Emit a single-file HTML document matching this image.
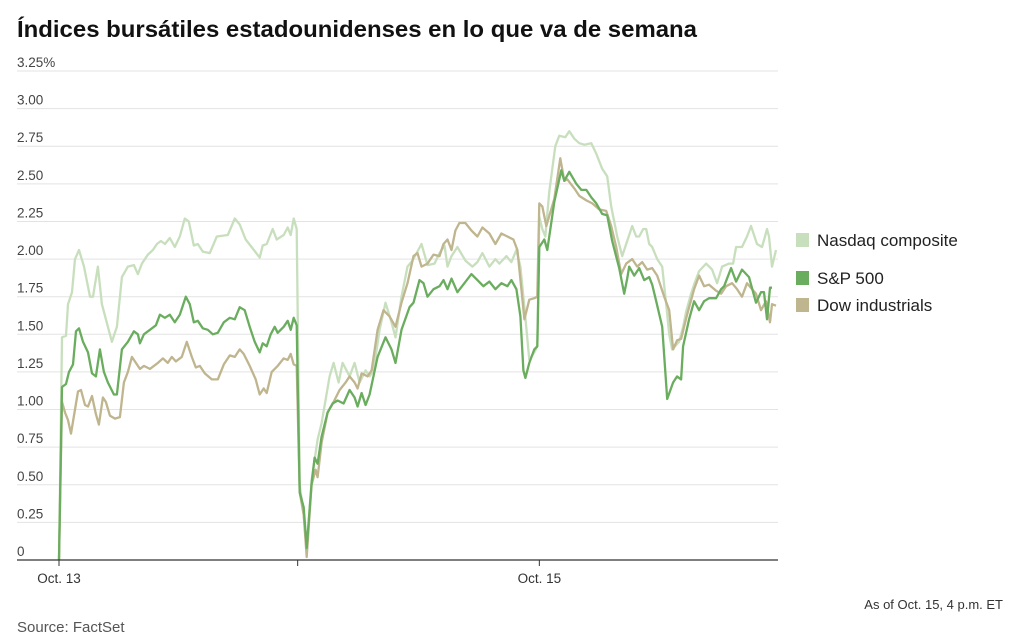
<!DOCTYPE html>
<html><head><meta charset="utf-8"><style>
html,body{margin:0;padding:0;background:#fff;}
svg{display:block;font-family:"Liberation Sans",sans-serif;}
</style></head><body>
<svg id="chart" width="1017" height="643" viewBox="0 0 1017 643">
<text x="17" y="37" font-size="23" font-weight="bold" fill="#111" textLength="680" lengthAdjust="spacingAndGlyphs">Índices bursátiles estadounidenses en lo que va de semana</text>
<g id="grid"></g>
<g id="series"></g>
<g id="xaxis"></g>
<g>
 <g><rect x="796" y="233" width="13" height="14" fill="#c8dfbd"/><text x="817" y="246" font-size="17" fill="#222">Nasdaq composite</text></g>
 <g><rect x="796" y="271" width="13" height="14" fill="#6aad5e"/><text x="817" y="284" font-size="17" fill="#222">S&amp;P 500</text></g>
 <g><rect x="796" y="298" width="13" height="14" fill="#bfb58e"/><text x="817" y="311" font-size="17" fill="#222">Dow industrials</text></g>
</g>
<text x="1003" y="609" font-size="13" fill="#333" text-anchor="end">As of Oct. 15, 4 p.m. ET</text>
<text x="17" y="632" font-size="15" fill="#555">Source: FactSet</text>
</svg>
<script>
// time unit: 1/240 of a trading session (0 = Oct 13 open, 720 = Oct 15 close)
const yTicks = [0,0.25,0.5,0.75,1,1.25,1.5,1.75,2,2.25,2.5,2.75,3,3.25];
const yTickLabels = ["0","0.25","0.50","0.75","1.00","1.25","1.50","1.75","2.00","2.25","2.50","2.75","3.00","3.25%"];
const xTicks = [0,239,481];
const xTickLabels = ["Oct. 13","","Oct. 15"];

const nasdaqT = [0,3,7,9,13,16,20,25,31,34,39,43,49,53,58,63,69,75,79,83,89,94,98,102,106,111,116,121,126,130,135,139,144,151,158,169,176,181,187,194,201,204,208,214,218,225,229,232,235,238,241,245,248,253,259,263,271,275,280,284,291,296,301,307,311,315,321,327,333,337,343,349,354,363,369,376,381,386,389,393,399,407,414,419,424,431,437,441,448,453,458,462,466,471,476,479,481,484,487,491,497,501,507,511,516,521,526,533,538,544,549,553,559,564,569,574,578,581,585,588,591,594,599,604,608,611,614,621,625,628,633,637,641,648,654,659,664,671,675,678,682,684,689,693,699,704,707,709,711,714,718];
const nasdaqV = [0,1.48,1.49,1.7,1.78,2.0,2.06,1.95,1.75,1.75,1.95,1.7,1.55,1.45,1.55,1.88,1.95,1.96,1.9,1.97,2.03,2.06,2.1,2.12,2.1,2.14,2.08,2.15,2.27,2.25,2.09,2.1,2.05,2.04,2.15,2.16,2.27,2.23,2.13,2.07,2.01,2.09,2.1,2.2,2.13,2.16,2.21,2.16,2.27,2.2,0.5,0.3,0.07,0.53,0.8,0.91,1.22,1.31,1.18,1.31,1.22,1.31,1.18,1.26,1.22,1.26,1.53,1.71,1.58,1.48,1.75,1.95,1.99,2.1,1.96,1.97,2.04,2.09,1.95,2.02,2.08,1.99,1.95,1.98,2.04,1.95,2.0,1.97,2.02,1.98,2.06,1.95,1.68,1.33,1.38,1.42,2.28,2.2,2.15,2.45,2.75,2.82,2.81,2.85,2.8,2.77,2.76,2.77,2.7,2.6,2.55,2.35,2.15,2.02,2.12,2.22,2.15,2.15,2.2,2.2,2.1,2.08,2.0,1.95,1.7,1.5,1.40,1.45,1.55,1.65,1.77,1.85,1.92,1.97,1.93,1.84,1.95,1.97,1.97,2.08,2.08,2.08,2.15,2.22,2.1,2.08,2.15,2.2,2.15,1.95,2.06,1.98,1.84,2.09,2.09];

const spT = [0,3,7,10,14,17,20,24,29,33,37,41,45,49,55,58,63,69,75,79,81,85,91,97,101,106,111,116,121,127,131,135,139,144,149,154,159,165,171,176,181,186,191,196,201,204,208,212,216,219,225,229,232,235,238,241,245,248,253,256,259,263,269,274,279,285,291,296,299,303,307,311,319,327,333,337,343,351,355,361,365,369,375,381,385,389,393,399,406,413,419,425,431,437,443,449,453,458,462,465,467,471,476,479,481,486,489,496,503,506,511,518,523,528,533,538,544,549,554,561,566,569,571,576,581,586,591,594,598,604,609,615,619,623,625,631,636,641,646,651,658,663,666,673,678,684,691,698,703,706,709,712,714,718];
const spV = [0,1.15,1.17,1.25,1.3,1.52,1.54,1.45,1.38,1.24,1.22,1.4,1.25,1.18,1.1,1.1,1.4,1.45,1.52,1.5,1.44,1.5,1.53,1.56,1.63,1.61,1.63,1.58,1.63,1.75,1.7,1.58,1.59,1.54,1.53,1.5,1.51,1.58,1.61,1.6,1.68,1.66,1.55,1.45,1.38,1.44,1.42,1.5,1.55,1.51,1.55,1.59,1.53,1.61,1.56,0.45,0.35,0.08,0.51,0.68,0.64,0.82,0.98,1.04,1.06,1.04,1.13,1.08,1.02,1.11,1.03,1.1,1.35,1.48,1.4,1.31,1.53,1.68,1.71,1.86,1.84,1.75,1.8,1.82,1.86,1.8,1.87,1.78,1.84,1.9,1.86,1.82,1.85,1.8,1.84,1.82,1.86,1.8,1.62,1.26,1.21,1.31,1.4,1.42,2.08,2.13,2.06,2.38,2.59,2.52,2.58,2.5,2.46,2.46,2.41,2.37,2.3,2.29,2.12,1.94,1.77,1.87,1.95,1.89,1.94,1.86,1.88,1.83,1.72,1.55,1.07,1.18,1.22,1.2,1.42,1.6,1.72,1.66,1.72,1.74,1.74,1.8,1.82,1.94,1.85,1.93,1.88,1.71,1.78,1.78,1.6,1.81,1.81];

const dowT = [0,3,6,9,12,16,19,22,26,29,33,37,40,44,47,51,56,61,65,69,73,77,81,85,91,99,104,109,113,117,123,128,133,137,141,146,153,159,165,171,176,181,185,191,197,201,205,208,213,219,225,229,232,235,238,241,245,248,253,257,259,263,269,275,281,287,291,296,299,303,309,313,319,325,331,337,343,349,355,359,363,369,375,381,385,389,393,397,401,407,413,419,424,431,437,443,449,455,459,463,466,471,476,479,481,484,488,496,502,506,509,516,521,528,534,541,548,553,558,563,568,574,579,584,589,594,599,606,611,615,619,623,629,636,641,646,651,658,663,668,674,679,684,689,698,703,708,712,714,718];
const dowV = [0,1.05,0.98,0.93,0.84,1.0,1.12,1.13,1.03,1.02,1.09,0.97,0.9,1.08,1.05,0.96,0.94,0.95,1.18,1.25,1.35,1.31,1.27,1.29,1.27,1.31,1.34,1.31,1.35,1.32,1.35,1.45,1.35,1.28,1.29,1.24,1.2,1.2,1.3,1.36,1.35,1.4,1.37,1.29,1.2,1.1,1.14,1.11,1.25,1.29,1.34,1.33,1.37,1.3,1.29,0.45,0.3,0.02,0.5,0.6,0.55,0.78,0.98,1.05,1.13,1.18,1.22,1.18,1.14,1.24,1.22,1.26,1.53,1.66,1.62,1.55,1.71,1.84,2.02,2.04,1.95,1.97,2.03,2.02,2.1,2.13,2.06,2.19,2.24,2.24,2.19,2.15,2.21,2.17,2.1,2.17,2.15,2.13,2.06,1.8,1.6,1.73,1.74,1.75,2.37,2.35,2.22,2.4,2.67,2.52,2.53,2.47,2.42,2.39,2.37,2.33,2.32,2.22,2.08,1.9,1.97,2.0,1.95,1.98,1.93,1.94,1.89,1.75,1.66,1.4,1.46,1.47,1.63,1.8,1.89,1.82,1.83,1.79,1.77,1.82,1.84,1.8,1.75,1.84,1.77,1.66,1.72,1.58,1.7,1.69];

const X0 = 59, X1 = 778, Y0 = 560, Y1 = 71;
function xScale(t){ return X0 + t/720*(X1-X0); }
function yScale(v){ return Y0 - v/3.25*(Y0-Y1); }
const NS = "http://www.w3.org/2000/svg";
const grid = document.getElementById('grid');
yTicks.forEach((v,i)=>{
  const y = yScale(v);
  if (i>0){
    const l = document.createElementNS(NS,'line');
    
    
    l.setAttribute('x1',17); l.setAttribute('x2',X1); l.setAttribute('y1',y); l.setAttribute('y2',y);
    l.setAttribute('stroke','#e3e3e3'); l.setAttribute('stroke-width','1');
    grid.appendChild(l);
  }
  const t = document.createElementNS(NS,'text');
  
  
  t.setAttribute('x',17); t.setAttribute('y',y-4);
  t.setAttribute('font-size','13.5'); t.setAttribute('fill','#444');
  t.textContent = yTickLabels[i];
  grid.appendChild(t);
});
const series = document.getElementById('series');
function draw(T,V,color,name){
  const p = document.createElementNS(NS,'path');
  
  
  p.setAttribute('d', T.map((t,i)=>(i?'L':'M')+xScale(t).toFixed(1)+' '+yScale(V[i]).toFixed(1)).join(' '));
  p.setAttribute('fill','none'); p.setAttribute('stroke',color);
  p.setAttribute('stroke-width','2.3'); p.setAttribute('stroke-linejoin','round');
  series.appendChild(p);
}
draw(nasdaqT,nasdaqV,'#c8dfbd','nasdaq-line');
draw(dowT,dowV,'#bfb58e','dow-line');
draw(spT,spV,'#6aad5e','sp500-line');
const xa = document.getElementById('xaxis');
const ax = document.createElementNS(NS,'line');


ax.setAttribute('x1',17); ax.setAttribute('x2',X1); ax.setAttribute('y1',Y0); ax.setAttribute('y2',Y0);
ax.setAttribute('stroke','#333'); ax.setAttribute('stroke-width','1.2');
xa.appendChild(ax);
xTicks.forEach((t,i)=>{
  const x = xScale(t);
  const tk = document.createElementNS(NS,'line');
  
  
  tk.setAttribute('x1',x); tk.setAttribute('x2',x); tk.setAttribute('y1',Y0); tk.setAttribute('y2',Y0+6);
  tk.setAttribute('stroke','#333');
  xa.appendChild(tk);
  if (xTickLabels[i]){
    const tx = document.createElementNS(NS,'text');
    
    
    tx.setAttribute('x',x); tx.setAttribute('y',583);
    tx.setAttribute('font-size','13.5'); tx.setAttribute('fill','#333'); tx.setAttribute('text-anchor','middle');
    tx.textContent = xTickLabels[i];
    xa.appendChild(tx);
  }
});
</script>
</body></html>
